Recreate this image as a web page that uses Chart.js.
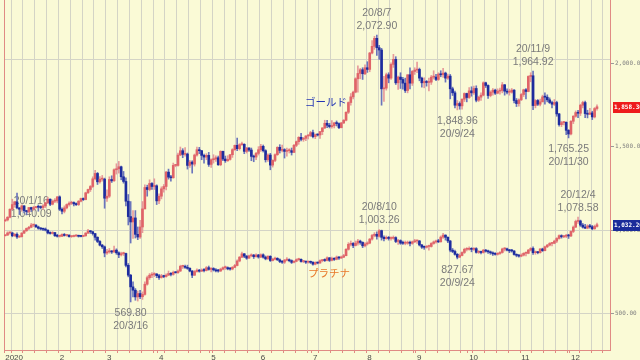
<!DOCTYPE html>
<html><head><meta charset="utf-8">
<script src="https://cdn.jsdelivr.net/npm/chart.js@4.4.1/dist/chart.umd.min.js"></script>
<style>html,body{margin:0;padding:0;background:#FAFAD6;overflow:hidden}#wrap{width:640px;height:360px}</style>
</head><body><div id="wrap"><canvas id="c" width="640" height="360"></canvas></div>
<script>
// ---- data ----
// Gold daily OHLC [open, high, low, close], 2020-01-01 .. 2020-12-16 (weekdays)
const goldOHLC = [
// Jan
[1517,1523,1516,1520],[1520,1530,1517,1528],[1528,1553,1526,1552],[1552,1582,1550,1566],[1566,1576,1558,1574],
[1574,1600,1553,1556],[1556,1557,1536,1552],[1552,1565,1546,1562],[1562,1563,1541,1548],[1548,1549,1535,1545],
[1545,1558,1541,1557],[1557,1558,1545,1552],[1552,1561,1549,1557],[1557,1561,1555,1560],[1560,1565,1546,1558],
[1558,1562,1553,1557],[1557,1566,1551,1562],[1562,1573,1557,1571],[1571,1588,1570,1582],[1582,1583,1563,1567],
[1567,1580,1565,1576],[1576,1584,1572,1577],[1577,1590,1571,1589],
// Feb
[1589,1592,1548,1552],[1552,1556,1538,1546],[1546,1562,1541,1556],[1556,1568,1553,1566],[1566,1574,1561,1570],
[1570,1576,1566,1572],[1572,1574,1562,1568],[1568,1571,1563,1566],[1566,1578,1563,1576],[1576,1585,1574,1584],
[1584,1586,1578,1581],[1581,1603,1580,1601],[1601,1612,1599,1611],[1611,1623,1605,1620],[1620,1649,1617,1643],
[1643,1668,1640,1659],[1659,1662,1626,1634],[1634,1650,1630,1642],[1642,1653,1636,1642],[1642,1645,1555,1585],
// Mar
[1585,1610,1575,1591],[1591,1649,1587,1641],[1641,1652,1632,1637],[1637,1673,1635,1670],[1670,1688,1657,1673],
[1673,1695,1660,1679],[1679,1681,1640,1649],[1649,1665,1630,1635],[1635,1646,1562,1576],[1576,1596,1505,1530],
[1530,1575,1451,1514],[1514,1548,1465,1526],[1526,1548,1466,1477],[1477,1499,1461,1469],[1469,1519,1465,1499],
[1499,1575,1482,1553],[1553,1625,1553,1617],[1617,1624,1591,1611],[1611,1640,1607,1629],[1629,1632,1611,1620],
[1620,1643,1611,1622],[1622,1625,1566,1577],
// Apr
[1577,1598,1569,1591],[1591,1619,1583,1613],[1613,1626,1603,1620],[1620,1665,1610,1663],[1663,1672,1642,1648],
[1648,1653,1636,1646],[1646,1690,1645,1683],[1683,1686,1679,1683],[1683,1720,1681,1714],[1714,1738,1712,1727],
[1727,1733,1706,1716],[1716,1736,1711,1717],[1717,1720,1672,1683],[1683,1698,1677,1693],[1693,1697,1660,1687],
[1687,1717,1681,1714],[1714,1738,1711,1730],[1730,1737,1718,1727],[1727,1728,1700,1713],[1713,1717,1690,1708],
[1708,1718,1700,1713],[1713,1722,1680,1686],
// May
[1686,1703,1677,1700],[1700,1715,1690,1702],[1702,1712,1695,1706],[1706,1711,1683,1685],[1685,1727,1682,1725],
[1725,1726,1697,1702],[1702,1711,1692,1697],[1697,1712,1695,1701],[1701,1716,1699,1715],[1715,1733,1707,1730],
[1730,1744,1728,1743],[1743,1765,1727,1733],[1733,1748,1729,1745],[1745,1753,1743,1746],[1746,1748,1718,1725],
[1725,1737,1720,1735],[1735,1736,1725,1729],[1729,1735,1697,1710],[1710,1714,1694,1708],[1708,1722,1700,1719],
[1719,1739,1714,1730],
// Jun
[1730,1746,1725,1740],[1740,1744,1723,1727],[1727,1730,1693,1700],[1700,1718,1695,1714],[1714,1719,1670,1684],
[1684,1700,1678,1698],[1698,1718,1694,1715],[1715,1739,1713,1737],[1737,1745,1720,1728],[1728,1744,1723,1730],
[1730,1733,1705,1725],[1725,1735,1711,1727],[1727,1733,1720,1727],[1727,1735,1714,1722],[1722,1746,1721,1743],
[1743,1756,1739,1754],[1754,1769,1746,1767],[1767,1779,1756,1761],[1761,1767,1755,1764],[1764,1772,1757,1771],
[1771,1775,1762,1772],[1772,1785,1769,1781],
// Jul
[1781,1789,1765,1769],[1769,1777,1763,1775],[1775,1777,1771,1774],[1774,1785,1764,1784],[1784,1796,1775,1795],
[1795,1818,1793,1809],[1809,1818,1796,1803],[1803,1809,1795,1799],[1799,1817,1794,1802],[1802,1812,1795,1810],
[1810,1816,1801,1808],[1808,1810,1793,1796],[1796,1812,1795,1810],[1810,1820,1808,1818],[1818,1843,1816,1842],
[1842,1873,1838,1871],[1871,1898,1863,1888],[1888,1905,1882,1902],[1902,1945,1900,1942],[1942,1981,1902,1958],
[1958,1973,1942,1969],[1969,1975,1940,1957],[1957,1984,1954,1975],
// Aug
[1975,1993,1961,1970],[1970,2021,1963,2019],[2019,2056,2016,2039],[2039,2069,2030,2063],[2063,2072.90,2012,2035],
[2035,2042,2000,2028],[2028,2033,1863,1912],[1912,1949,1874,1914],[1914,1959,1908,1954],[1954,1960,1930,1944],
[1944,1990,1940,1985],[1985,2015,1976,2000],[2000,2008,1925,1930],[1930,1950,1910,1947],[1947,1960,1913,1940],
[1940,1946,1911,1929],[1929,1944,1901,1907],[1907,1954,1900,1954],[1954,1975,1912,1929],[1929,1967,1922,1964],
[1964,1975,1955,1968],
// Sep
[1968,1992,1960,1970],[1970,1974,1936,1944],[1944,1947,1917,1930],[1930,1945,1915,1934],[1934,1937,1920,1931],
[1931,1944,1906,1932],[1932,1952,1925,1947],[1947,1966,1941,1947],[1947,1955,1936,1940],[1940,1960,1937,1956],
[1956,1966,1948,1954],[1954,1973,1946,1959],[1959,1962,1932,1944],[1944,1956,1940,1950],[1950,1955,1882,1912],
[1912,1917,1892,1900],[1900,1905,1855,1863],[1863,1877,1848.96,1868],[1868,1873,1851,1861],[1861,1882,1851,1881],
[1881,1900,1874,1898],[1898,1899,1873,1886],
// Oct
[1886,1916,1883,1906],[1906,1918,1890,1900],[1900,1920,1895,1913],[1913,1921,1873,1878],[1878,1890,1874,1887],
[1887,1900,1877,1893],[1893,1933,1891,1930],[1930,1932,1916,1922],[1922,1924,1883,1892],[1892,1906,1888,1902],
[1902,1913,1893,1908],[1908,1911,1895,1899],[1899,1912,1897,1905],[1905,1914,1896,1907],[1907,1931,1900,1924],
[1924,1925,1893,1905],[1905,1912,1897,1902],[1902,1911,1893,1902],[1902,1913,1899,1908],[1908,1910,1870,1877],
[1877,1883,1859,1868],[1868,1882,1860,1879],
// Nov
[1879,1898,1877,1895],[1895,1911,1889,1909],[1909,1913,1882,1904],[1904,1951,1903,1949],[1949,1960,1933,1951],
[1951,1964.92,1850,1862],[1862,1880,1855,1877],[1877,1880,1862,1866],[1866,1881,1861,1873],[1873,1893,1873,1888],
[1888,1900,1866,1887],[1887,1894,1873,1879],[1879,1885,1868,1871],[1871,1875,1855,1866],[1866,1880,1862,1871],
[1871,1875,1830,1837],[1837,1839,1800,1805],[1805,1815,1799,1811],[1811,1815,1804,1812],[1812,1813,1775,1788],
[1788,1790,1765.25,1777],
// Dec
[1777,1817,1774,1815],[1815,1832,1808,1830],[1830,1846,1827,1841],[1841,1848,1826,1839],[1839,1866,1832,1863],
[1863,1875,1855,1871],[1871,1875,1826,1838],[1838,1848,1825,1836],[1836,1854,1835,1840],[1840,1845,1820,1828],
[1828,1856,1825,1853],[1853,1864,1848,1858.3]
];
// Platinum daily OHLC [open, high, low, close]
const platOHLC = [
// Jan
[966,972,965,970],[970,990,968,983],[983,990,975,983],[983,988,960,966],[966,980,962,975],
[975,984,950,959],[959,966,955,961],[961,985,958,982],[982,1000,978,996],[996,1013,992,1010],
[1010,1022,1003,1017],[1017,1040.09,1014,1030],[1030,1035,1020,1030],[1030,1033,1016,1019],[1019,1024,1005,1011],
[1011,1015,1001,1007],[1007,1012,997,1005],[1005,1013,995,1000],[1000,1001,977,983],[983,990,975,980],
[980,991,976,985],[985,987,962,966],[966,975,958,963],
// Feb
[963,970,958,963],[963,978,960,974],[974,980,964,968],[968,975,963,970],[970,972,957,961],
[961,966,956,962],[962,970,959,965],[965,972,962,967],[967,970,958,963],[963,968,959,962],
[962,970,960,966],[966,985,963,982],[982,1005,979,995],[995,998,980,990],[990,993,970,979],
[979,980,940,957],[957,960,925,932],[932,937,905,910],[910,915,890,900],[900,905,840,863],
// Mar
[863,885,855,870],[870,890,862,870],[870,878,860,869],[869,905,866,880],[880,888,855,864],
[864,870,835,852],[852,868,845,859],[859,868,848,860],[860,862,780,789],[789,800,720,730],
[730,735,569.80,660],[660,690,600,640],[640,650,580,600],[600,635,575,620],[620,640,590,601],
[601,630,585,615],[615,690,610,676],[676,725,670,715],[715,740,705,730],[730,745,715,734],
[734,745,722,737],[737,740,715,727],
// Apr
[727,735,705,716],[716,735,712,725],[725,730,715,722],[722,738,718,730],[730,755,728,740],
[740,745,725,735],[735,755,730,747],[747,750,742,745],[745,762,740,755],[755,790,752,783],
[783,790,770,783],[783,790,770,777],[777,790,765,771],[771,775,750,755],[755,758,715,730],
[730,758,728,752],[752,768,748,760],[760,765,748,754],[754,768,752,760],[760,770,750,758],
[758,782,755,775],[775,785,760,765],
// May
[765,775,750,770],[770,775,755,762],[762,770,750,756],[756,765,748,755],[755,772,752,766],
[766,780,762,775],[775,785,765,775],[775,780,762,768],[768,775,760,767],[767,782,762,777],
[777,795,775,788],[788,822,785,815],[815,842,810,838],[838,868,835,858],[858,860,835,844],
[844,848,825,832],[832,850,830,846],[846,858,840,850],[850,855,830,841],[841,858,838,851],
[851,855,832,839],
// Jun
[839,858,835,852],[852,858,832,838],[838,845,822,828],[828,848,825,843],[843,847,812,818],
[818,832,815,826],[826,838,822,831],[831,835,818,822],[822,828,805,812],[812,818,800,808],
[808,825,800,820],[820,835,815,822],[822,828,810,817],[817,822,800,807],[807,818,803,813],
[813,828,810,823],[823,832,818,825],[825,828,808,812],[812,818,805,812],[812,815,800,808],
[808,815,802,809],[809,815,800,807],
// Jul
[807,812,790,796],[796,810,792,806],[806,808,798,803],[803,822,800,817],[817,825,810,819],
[819,828,812,818],[818,840,815,834],[834,836,812,819],[819,838,815,830],[830,835,818,825],
[825,845,822,838],[838,842,825,833],[833,845,830,838],[838,855,835,847],[847,890,845,885],
[885,925,880,915],[915,935,905,920],[920,925,895,908],[908,935,905,922],[922,945,910,934],
[934,940,915,926],[926,930,895,906],[906,925,900,917],
// Aug
[917,930,910,922],[922,950,918,946],[946,975,940,968],[968,985,960,975],[975,990,945,963],
[963,1003.26,958,997],[997,1000,940,957],[957,965,935,949],[949,965,945,957],[957,962,940,950],
[950,960,940,951],[951,965,945,955],[955,960,925,932],[932,945,915,937],[937,942,915,922],
[922,935,915,921],[921,935,912,922],[922,935,915,927],[927,935,905,921],[921,935,915,930],
[930,945,925,935],
// Sep
[935,940,920,935],[935,938,905,911],[911,915,890,898],[898,905,885,897],[897,908,892,902],
[902,910,880,902],[902,925,898,920],[920,935,915,929],[929,940,922,935],[935,945,925,930],
[930,965,928,958],[958,980,950,970],[970,972,940,957],[957,960,925,935],[935,938,870,880],
[880,890,865,872],[872,880,850,855],[855,860,827.67,838],[838,858,835,848],[848,870,845,866],
[866,892,860,885],[885,895,875,885],
// Oct
[885,900,880,890],[890,895,870,885],[885,895,878,889],[889,895,862,867],[867,878,860,871],
[871,875,858,866],[866,885,862,880],[880,885,868,874],[874,880,860,870],[870,875,855,864],
[864,870,848,858],[858,865,850,855],[855,865,850,860],[860,872,855,866],[866,892,862,887],
[887,895,875,888],[888,892,875,880],[880,885,865,876],[876,885,868,875],[875,878,850,854],
[854,858,840,849],[849,855,838,844],
// Nov
[844,858,840,850],[850,865,845,861],[861,870,845,861],[861,885,858,880],[880,895,875,890],
[890,900,855,865],[865,875,855,866],[866,872,858,865],[865,890,862,887],[887,892,872,877],
[877,905,875,900],[900,915,895,910],[910,925,905,920],[920,925,905,921],[921,940,918,934],
[934,955,925,950],[950,972,945,967],[967,972,952,960],[960,968,955,963],[963,975,955,967],
[967,975,950,965],
// Dec
[965,995,960,992],[992,1025,985,1018],[1018,1060,1015,1052],[1052,1078.58,1040,1055],[1055,1060,1022,1030],
[1030,1040,1012,1018],[1018,1035,1008,1012],[1012,1032,1008,1025],[1025,1035,1012,1020],[1020,1028,1002,1008],
[1008,1030,1005,1022],[1022,1042,1018,1032.2]
];
const slotCount = 256;                     // trading-day slots on the time axis (data + empty future days)
const yTickValues = [500, 1000, 1500, 2000];
const goldNotes = [
  {date:'2020-08-07', text:'20/8/7',   value:2072.90, side:'above'},
  {date:'2020-11-09', text:'20/11/9',  value:1964.92, side:'above'},
  {date:'2020-09-24', text:'20/9/24',  value:1848.96, side:'below'},
  {date:'2020-11-30', text:'20/11/30', value:1765.25, side:'below'}
];
const platNotes = [
  {date:'2020-01-16', text:'20/1/16',  value:1040.09, side:'above'},
  {date:'2020-03-16', text:'20/3/16',  value:569.80,  side:'below'},
  {date:'2020-08-10', text:'20/8/10',  value:1003.26, side:'above'},
  {date:'2020-09-24', text:'20/9/24',  value:827.67,  side:'below'},
  {date:'2020-12-04', text:'20/12/4',  value:1078.58, side:'above'}
];
const seriesNames = {gold:'ゴールド', plat:'プラチナ'};

// ---- categories: weekdays from 2020-01-01 ----
const days = [], dow = [], monthStart = [];
{
  let t = Date.UTC(2020,0,1), prevM = -1;
  while (days.length < slotCount) {
    const d = new Date(t);
    const wd = d.getUTCDay();
    if (wd !== 0 && wd !== 6) {
      const m = d.getUTCMonth();
      days.push(d.toISOString().slice(0,10));
      dow.push(wd);
      monthStart.push(m !== prevM ? (prevM === -1 ? '2020' : String(m+1)) : '');
      prevM = m;
    }
    t += 86400000;
  }
}

// ---- styles ----
const BG = '#FAFAD6', GRID = '#D4D4C6', AXIS = '#E08A84';
const UP = '#E06468', DOWN = '#1D2C9E', UPW = '#E79A9A', DOWNW = '#6A74BC';
const CLEAR = 'rgba(0,0,0,0)';
const fmt = v => v.toLocaleString('en-US',{minimumFractionDigits:2, maximumFractionDigits:2});
const isUp = (arr,i) => arr[i] && arr[i][3] >= arr[i][0];

function candleSets(arr, axis){
  return [
    {data: arr.map(d=>[d[0], d[3]]), yAxisID: axis, grouped:false, barThickness:2, minBarLength:1, order:0,
     backgroundColor: c => isUp(arr,c.dataIndex) ? UP : DOWN, borderWidth:0},
    {data: arr.map(d=>[d[2], d[1]]), yAxisID: axis, grouped:false, barThickness:1, order:1,
     backgroundColor: c => isUp(arr,c.dataIndex) ? UPW : DOWNW, borderWidth:0}
  ];
}

const bgPlugin = {id:'bg', beforeDraw(ch){const c=ch.ctx; c.save(); c.fillStyle=BG; c.fillRect(0,0,ch.width,ch.height); c.restore();}};

const notesPlugin = {id:'notes', beforeDatasetsDraw(ch){
  const c = ch.ctx, xs = ch.scales.x;
  c.save();
  c.font = '10.5px "Liberation Sans", sans-serif';
  c.fillStyle = '#7A7A7A'; c.textAlign='center'; c.textBaseline='middle';
  const draw = (list, axis) => list.forEach(n => {
    const i = days.indexOf(n.date);
    const px = xs.getPixelForValue(i), py = ch.scales[axis].getPixelForValue(n.value);
    if (n.side === 'above') { c.fillText(n.text, px, py-22); c.fillText(fmt(n.value), px, py-9); }
    else { c.fillText(fmt(n.value), px, py+11); c.fillText(n.text, px, py+24); }
  });
  draw(goldNotes,'yG'); draw(platNotes,'yP');
  // series names
  c.font = '10.5px "Noto Sans CJK JP", sans-serif';
  c.textAlign = 'left';
  c.fillStyle = '#2436B4'; c.fillText(seriesNames.gold, 305, 102);
  c.fillStyle = '#E8782A'; c.fillText(seriesNames.plat, 308, 273);
  c.restore();
}};

const tagPlugin = {id:'tags', afterDraw(ch){
  const c = ch.ctx;
  const g = goldOHLC[goldOHLC.length-1][3], p = platOHLC[platOHLC.length-1][3];
  const gy = Math.round(ch.scales.yG.getPixelForValue(g)), py = Math.round(ch.scales.yP.getPixelForValue(p));
  c.save();
  c.font = 'bold 6px "DejaVu Sans Mono", monospace'; c.textBaseline='middle'; c.textAlign='left';
  c.fillStyle = '#EE1B1B'; c.fillRect(613, gy-5, 28, 11);
  c.fillStyle = '#FFFFFF'; c.fillText(fmt(g), 614, gy+0.5);
  c.fillStyle = '#1B2C9A'; c.fillRect(613, py-5, 28, 11);
  c.fillStyle = '#FFFFFF'; c.fillText(fmt(p), 614, py+0.5);
  c.restore();
}};

new Chart(document.getElementById('c'), {
  type:'bar',
  data:{ labels: days, datasets: [...candleSets(goldOHLC,'yG'), ...candleSets(platOHLC,'yP')] },
  options:{
    responsive:false, animation:false, devicePixelRatio:1,
    layout:{padding:{left:4, right:0, top:0, bottom:0}},
    plugins:{legend:{display:false}, tooltip:{enabled:false}},
    scales:{
      x:{
        type:'category', offset:true,
        grid:{offset:true, color: c => dow[c.index]===1 ? GRID : CLEAR,
              tickColor: c => (dow[c.index]===1 || monthStart[c.index]) ? AXIS : CLEAR, tickLength:3},
        border:{color:AXIS},
        ticks:{autoSkip:false, maxRotation:0, minRotation:0, align:'start', padding:0,
               font:{size:8, family:'Liberation Sans'}, color:'#4A4A4A',
               callback:(v,i)=> monthStart[i] || ''},
        afterFit: s => { s.height = 10; s.paddingLeft = 0; s.paddingRight = 0; }
      },
      yG:{
        position:'left', min:1131.2, max:2177.5,
        afterBuildTicks: s => { s.ticks = [{value:2000}]; },
        ticks:{display:false},
        grid:{color:GRID, drawTicks:false},
        border:{color:AXIS},
        afterFit: s => { s.width = 0; s.paddingTop = 0; s.paddingBottom = 0; }
      },
      yP:{
        position:'right', min:282, max:2378,
        afterBuildTicks: s => { s.ticks = yTickValues.map(v=>({value:v})); },
        grid:{color: c => (c.tick && c.tick.value <= 1000) ? GRID : CLEAR, tickColor:'#9A9A9A', tickLength:4},
        border:{color:AXIS},
        ticks:{padding:1, font:{size:6, family:'DejaVu Sans Mono'}, color:'#808080', callback: v => fmt(v)},
        afterFit: s => { s.width = 30; s.paddingTop = 0; s.paddingBottom = 0; }
      }
    }
  },
  plugins:[bgPlugin, notesPlugin, tagPlugin]
});
</script></body></html>
